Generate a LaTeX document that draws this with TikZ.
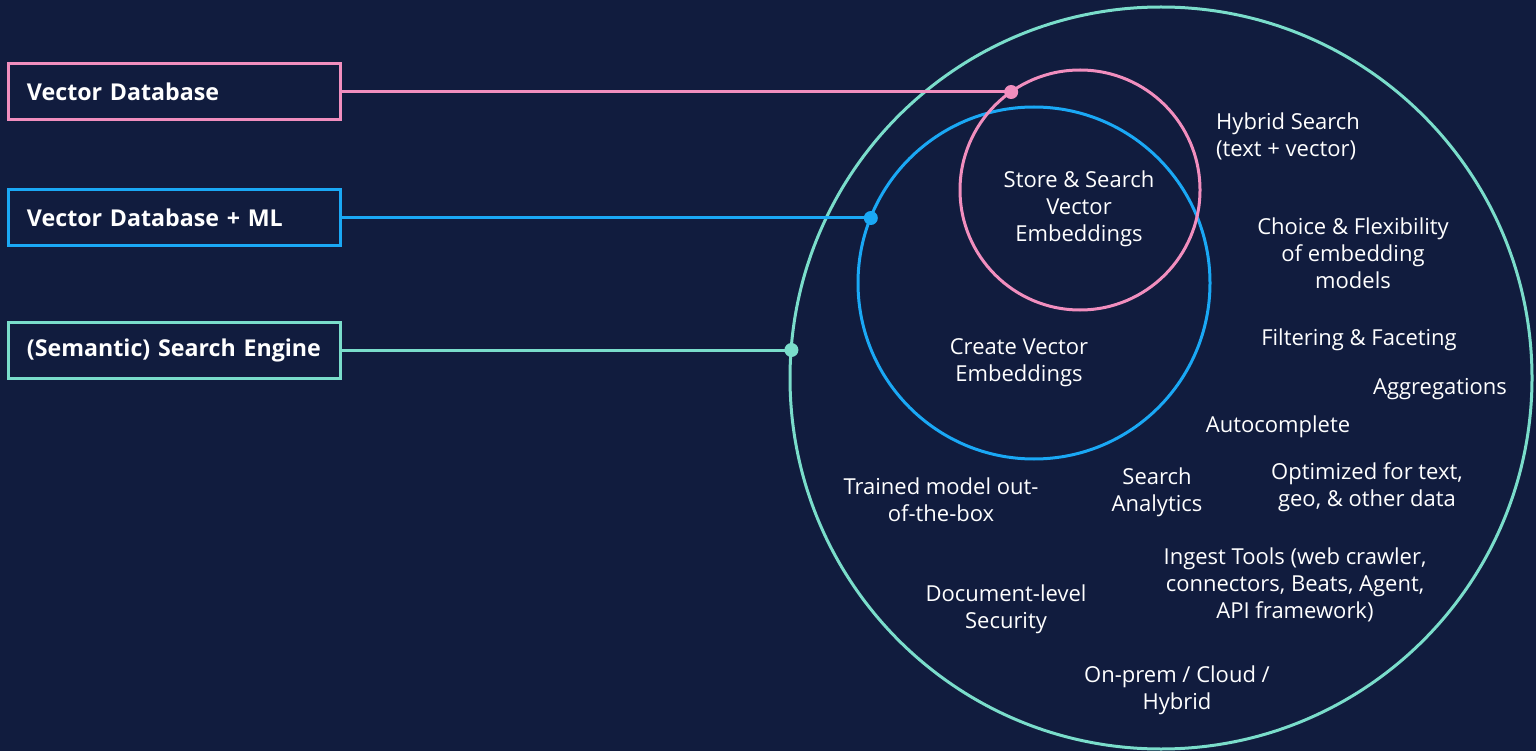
\documentclass[tikz,border=0pt]{standalone}
\usepackage{fontspec}
\setmainfont{Open Sans}
\usepackage{tikz}
\usetikzlibrary{positioning}

\definecolor{bgnavy}{RGB}{17,28,62}
\definecolor{vdbpink}{RGB}{241,142,190}
\definecolor{mlblue}{RGB}{26,168,245}
\definecolor{seteal}{RGB}{122,221,203}

\tikzset{
  tierbox/.style={draw=#1, line width=3pt, rectangle, text=white, inner xsep=19pt,
    text width=294pt, minimum height=56pt, align=left,
    font=\fontsize{23.2}{28}\selectfont\bfseries},
  ring/.style={draw=#1, line width=3pt, circle, inner sep=0pt, outer sep=0pt},
  link/.style={draw=#1, line width=3pt},
  feat/.style={text=white, align=center, inner sep=0pt, font=\fontsize{22}{26.8}\selectfont},
}

\begin{document}
\begin{tikzpicture}[x=1pt, y=-1pt]
\fill[bgnavy] (0,0) rectangle (1536,751);
\useasboundingbox (0,0) rectangle (1536,751);

% the three circles
\node[ring=seteal, minimum size=742pt] (engine) at (1161,378) {};
\node[ring=mlblue, minimum size=352pt] (mlring) at (1034,283) {};
\node[ring=vdbpink, minimum size=240pt] (vdbring) at (1080,190) {};

% the boxes on the left
\node[tierbox=vdbpink] (vdb) at (174,92) {\mbox{Vector Database}};
\node[tierbox=mlblue] (vdbml) at (174,218) {\mbox{Vector Database + ML}};
\node[tierbox=seteal] (search) at (174,350) {\mbox{(Semantic) Search Engine}};

\coordinate (pring) at (vdbring.125.3);
\coordinate (bring) at (mlring.158);
\coordinate (tring) at (engine.175.7);
\coordinate (pdot) at (vdb.east -| pring);
\coordinate (bdot) at (vdbml.east -| bring);
\coordinate (tdot) at (search.east -| tring);

\draw[link=vdbpink] (vdb.east) -- (pdot);
\draw[link=mlblue] (vdbml.east) -- (bdot);
\draw[link=seteal] (search.east) -- (tdot);
\fill[vdbpink] (pdot) circle (7pt);
\fill[mlblue] (bdot) circle (7pt);
\fill[seteal] (tdot) circle (7pt);

% features
\node[feat] (store) at (1079,209) {Store \& Search\\Vector\\Embeddings};
\node[feat] (create) at (1019,363) {Create Vector\\Embeddings};
\node[feat, align=left, anchor=west] (hybrid) at (1216,136) {Hybrid Search\\(text + vector)};
\node[feat] (choice) at (1353,253) {Choice \& Flexibility\\of embedding\\models};
\node[feat] (filter) at (1359,340) {Filtering \& Faceting};
\node[feat] (aggr) at (1440,389) {Aggregations};
\node[feat] (autoc) at (1278,427) {Autocomplete};
\node[feat] (optim) at (1367,487) {Optimized for text,\\geo, \& other data};
\node[feat] (analytics) at (1157,492) {Search\\Analytics};
\node[feat] (trained) at (941,500) {Trained model out-\\of-the-box};
\node[feat] (ingest) at (1295,585) {Ingest Tools (web crawler,\\connectors, Beats, Agent,\\API framework)};
\node[feat] (docsec) at (1006,609) {Document-level\\Security};
\node[feat] (onprem) at (1177,690) {On-prem / Cloud /\\Hybrid};
\end{tikzpicture}
\end{document}
